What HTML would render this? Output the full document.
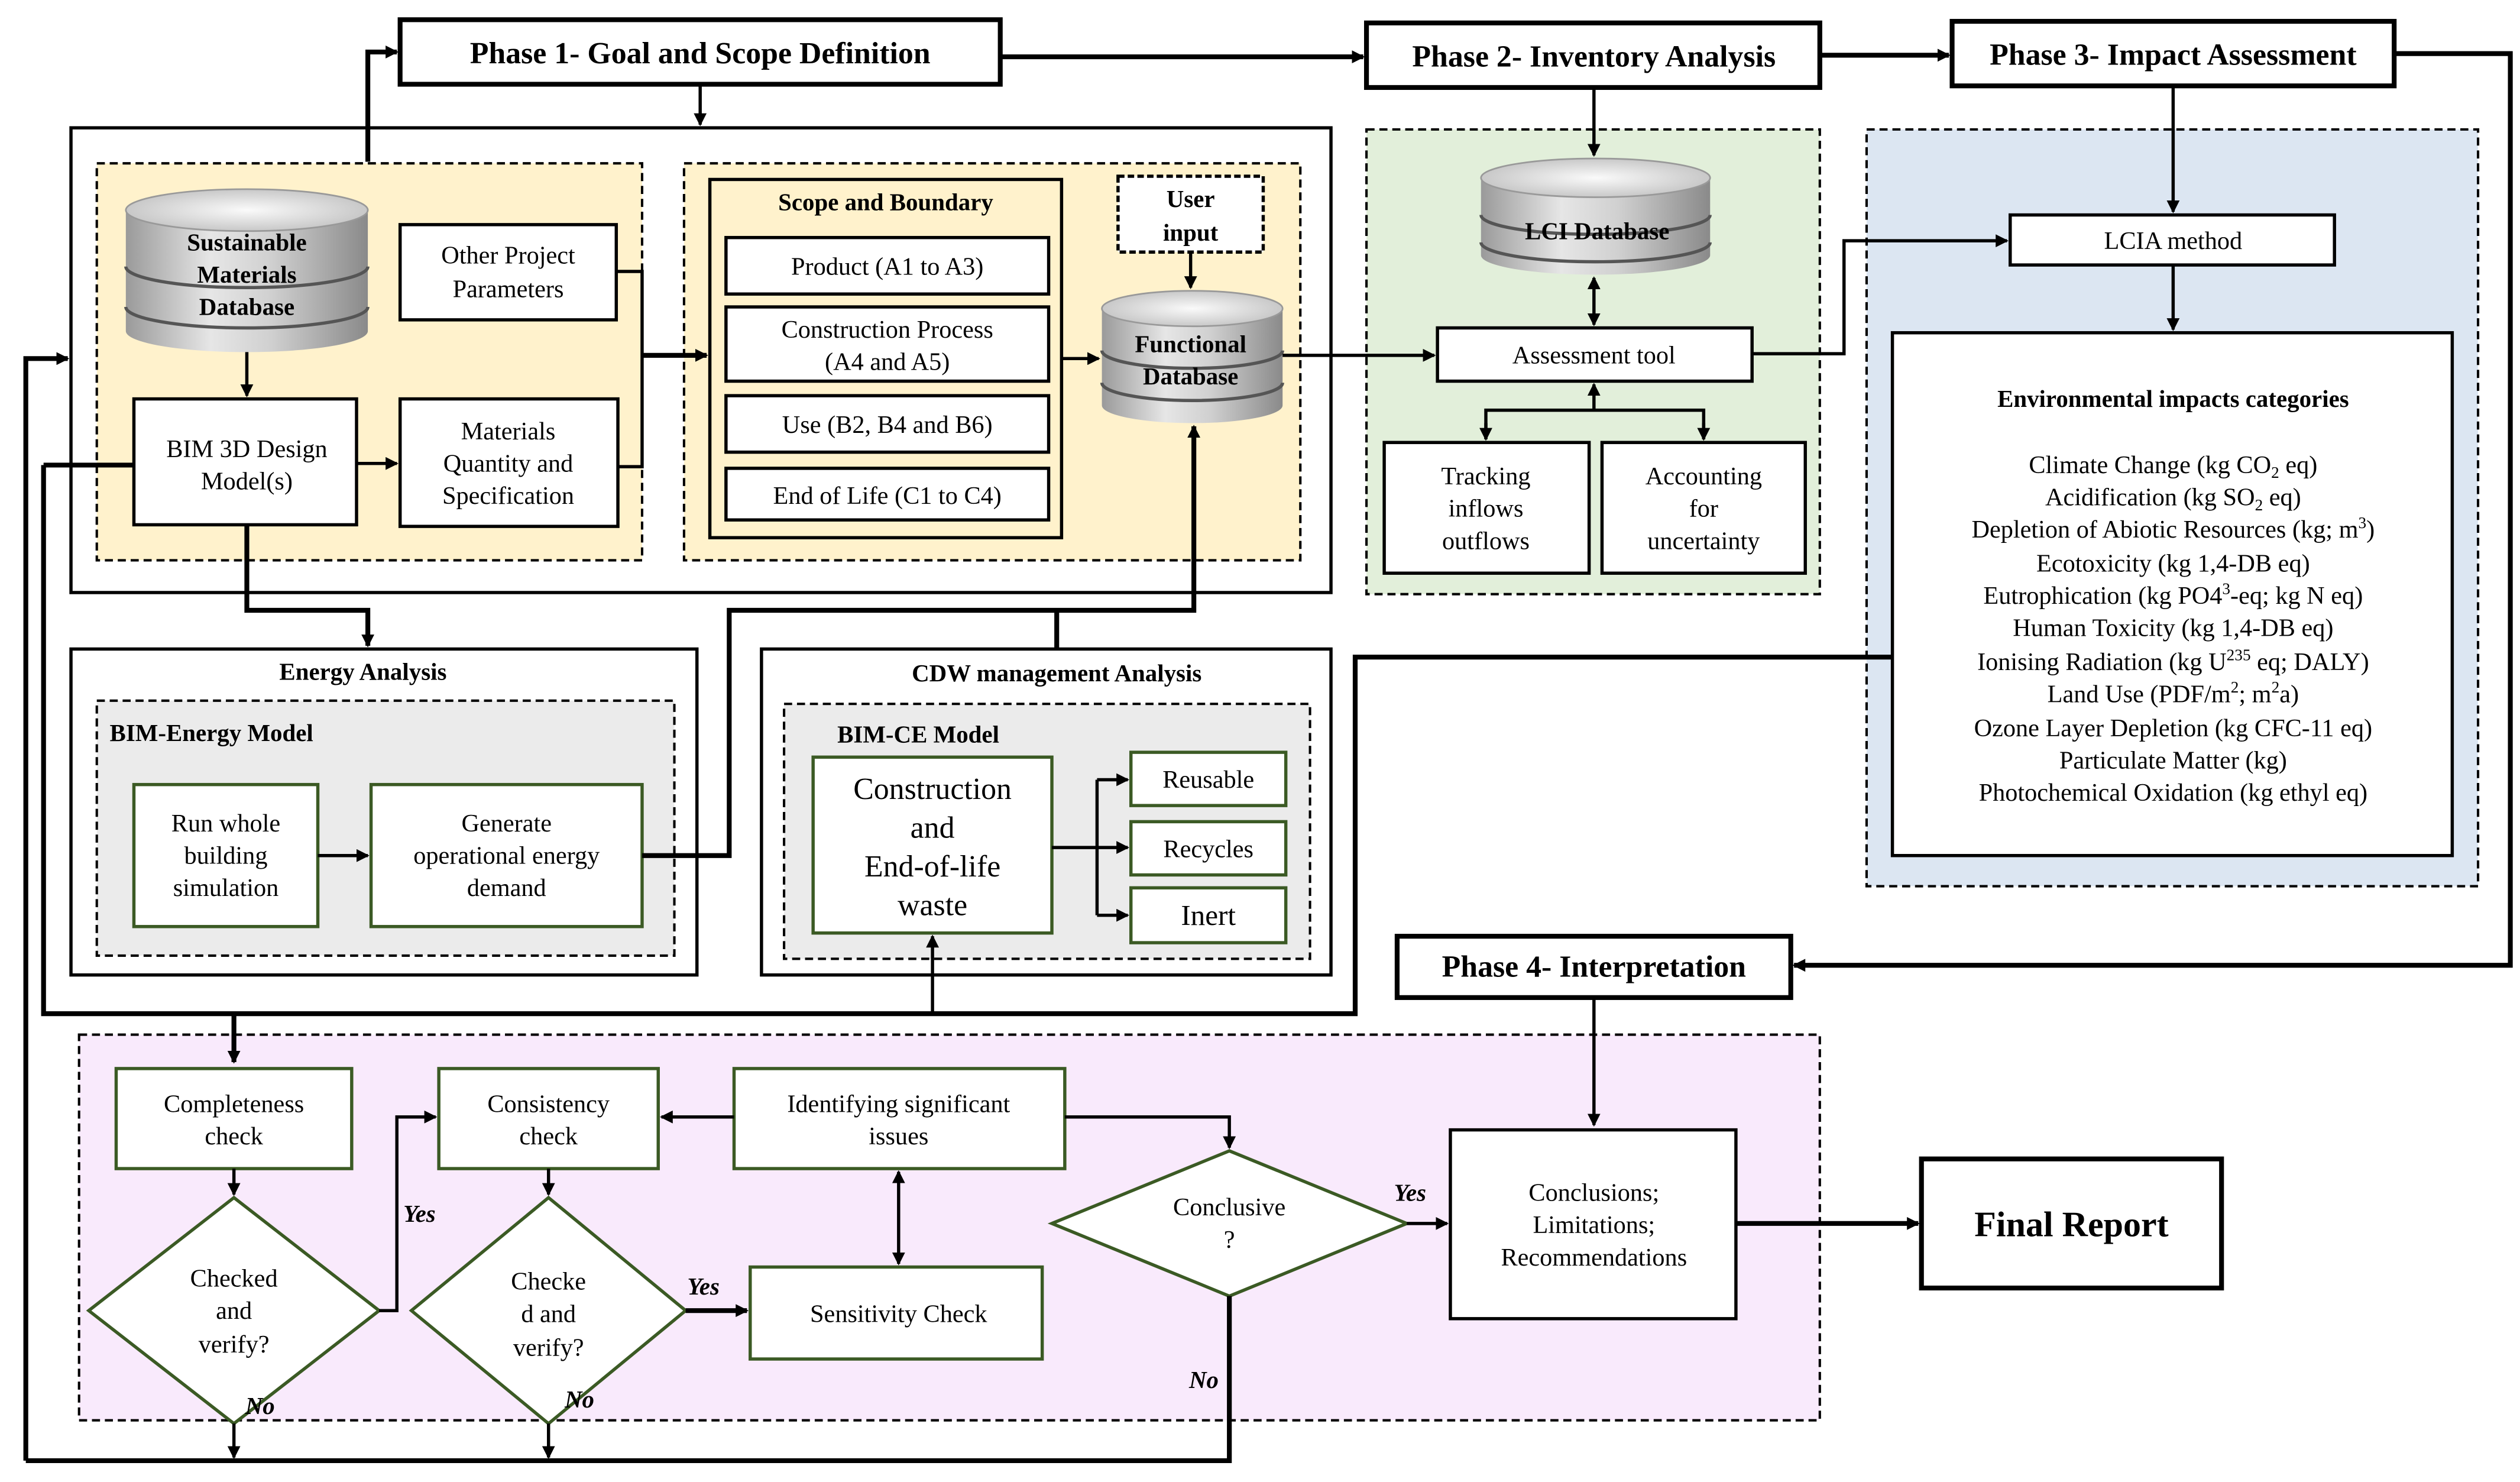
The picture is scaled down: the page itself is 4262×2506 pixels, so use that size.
<!DOCTYPE html>
<html><head><meta charset="utf-8"><style>html,body{margin:0;padding:0;background:#fff}svg{display:block}</style></head><body>
<svg width="4262" height="2506" viewBox="0 0 1562 918" xmlns="http://www.w3.org/2000/svg" font-family="'Liberation Serif',serif">
<defs>
<marker id="a" markerWidth="8" markerHeight="8" refX="7" refY="4" orient="auto" markerUnits="userSpaceOnUse"><path d="M0,0 L8,4 L0,8 Z" fill="#000"/></marker>
<marker id="s" markerWidth="8" markerHeight="8" refX="1" refY="4" orient="auto" markerUnits="userSpaceOnUse"><path d="M8,0 L0,4 L8,8 Z" fill="#000"/></marker>
<linearGradient id="cg" x1="0" x2="1"><stop offset="0" stop-color="#9a9a9a"/><stop offset=".35" stop-color="#e6e6e6"/><stop offset=".6" stop-color="#d0d0d0"/><stop offset="1" stop-color="#8a8a8a"/></linearGradient>
<radialGradient id="ct"><stop offset="0" stop-color="#fafafa"/><stop offset="1" stop-color="#c8c8c8"/></radialGradient>
</defs>
<g fill="none" stroke="#000">
<!-- backgrounds -->
<rect x="44" y="79" width="781" height="288" stroke-width="2"/>
<rect x="60" y="101" width="338" height="246" fill="#fff2cc" stroke-dasharray="5,3" stroke-width="1.5"/>
<rect x="424" y="101" width="382" height="246" fill="#fff2cc" stroke-dasharray="5,3" stroke-width="1.5"/>
<rect x="847" y="80" width="281" height="288" fill="#e2efda" stroke-dasharray="5,3" stroke-width="1.5"/>
<rect x="1157" y="80" width="379" height="469" fill="#dce6f2" stroke-dasharray="5,3" stroke-width="1.5"/>
<rect x="44" y="402" width="388" height="202" stroke-width="2"/>
<rect x="60" y="434" width="358" height="158" fill="#ebebeb" stroke-dasharray="5,3" stroke-width="1.5"/>
<rect x="472" y="402" width="353" height="202" stroke-width="2"/>
<rect x="486" y="436" width="326" height="158" fill="#ebebeb" stroke-dasharray="5,3" stroke-width="1.5"/>
<rect x="49" y="641" width="1079" height="239" fill="#f9eafc" stroke-dasharray="5,3" stroke-width="1.5"/>
<!-- phase boxes -->
<rect x="248" y="12" width="372" height="40" fill="#fff" stroke-width="3"/>
<rect x="847" y="14" width="281" height="40" fill="#fff" stroke-width="3"/>
<rect x="1210" y="13" width="274" height="40" fill="#fff" stroke-width="3"/>
<rect x="866" y="580" width="244" height="38" fill="#fff" stroke-width="3"/>
<rect x="1191" y="718" width="186" height="80" fill="#fff" stroke-width="3"/>
<!-- boxes phase1 -->
<g fill="#fff" stroke-width="2">
<rect x="248" y="139" width="134" height="59"/>
<rect x="83" y="247" width="138" height="78"/>
<rect x="248" y="247" width="135" height="79"/>
<rect x="440" y="111" width="218" height="222" fill="#fff2cc"/>
<rect x="450" y="147" width="200" height="35"/>
<rect x="450" y="190" width="200" height="46"/>
<rect x="450" y="245" width="200" height="35"/>
<rect x="450" y="290" width="200" height="32"/>
<rect x="693" y="109" width="90" height="47" stroke-dasharray="4,2"/>
<rect x="891" y="203" width="195" height="33"/>
<rect x="858" y="274" width="127" height="81"/>
<rect x="993" y="274" width="126" height="81"/>
<rect x="1246" y="133" width="201" height="31"/>
<rect x="1173" y="206" width="347" height="324"/>
<rect x="899" y="700" width="177" height="117"/>
</g>
<g fill="#fff" stroke="#3b5a24" stroke-width="2">
<rect x="83" y="486" width="114" height="88"/>
<rect x="230" y="486" width="168" height="88"/>
<rect x="504" y="469" width="148" height="109"/>
<rect x="701" y="466" width="96" height="33"/>
<rect x="701" y="509" width="96" height="33"/>
<rect x="701" y="550" width="96" height="34"/>
<rect x="72" y="662" width="146" height="62"/>
<rect x="272" y="662" width="136" height="62"/>
<rect x="455" y="662" width="205" height="62"/>
<rect x="465" y="785" width="181" height="57"/>
<path d="M145,742 L235,812 L145,882 L55,812 Z"/>
<path d="M340,742 L425,812 L340,882 L255,812 Z"/>
<path d="M762,713 L872,758 L762,803 L652,758 Z"/>
</g>
<!-- cylinders -->
<g stroke="none">
<path d="M78,130 v75 a75,13 0 0 0 150,0 v-75 Z" fill="url(#cg)"/>
<ellipse cx="153" cy="130" rx="75" ry="13" fill="url(#ct)" stroke="#999" stroke-width="1"/>
<path d="M683,191 v60 a56,11 0 0 0 112,0 v-60 Z" fill="url(#cg)"/>
<ellipse cx="739" cy="191" rx="56" ry="11" fill="url(#ct)" stroke="#999" stroke-width="1"/>
<path d="M918,110 v48 a71,12 0 0 0 142,0 v-48 Z" fill="url(#cg)"/>
<ellipse cx="989" cy="110" rx="71" ry="12" fill="url(#ct)" stroke="#999" stroke-width="1"/>
</g>
<g stroke="#555" stroke-width="2">
<path d="M78,165 a75,13 0 0 0 150,0"/><path d="M78,190 a75,13 0 0 0 150,0"/>
<path d="M683,217 a56,11 0 0 0 112,0"/><path d="M683,237 a56,11 0 0 0 112,0"/>
<path d="M918,133 a71,12 0 0 0 142,0"/><path d="M918,150 a71,12 0 0 0 142,0"/>
</g>
<!-- connectors -->
<g stroke-width="3">
<path d="M620,35 H845" marker-end="url(#a)"/>
<path d="M1128,34 H1208" marker-end="url(#a)"/>
<path d="M1484,33 H1556 V598 H1112" marker-end="url(#a)"/>
<path d="M228,100 V32 H246" marker-end="url(#a)"/>
<path d="M16,905 V222 H42" marker-end="url(#a)"/>
<path d="M16,905 H762 V803"/>
<path d="M153,325 V378 H228 V400" marker-end="url(#a)"/>
<path d="M398,530 H452 V378 H740 V264" marker-end="url(#a)"/>
<path d="M655,378 V402"/>
<path d="M27,288 H83 M27,288 V628 H840 V407 H1173"/>
<path d="M145,628 V658" marker-end="url(#a)"/>
<path d="M398,220 H438" marker-end="url(#a)"/>
<path d="M1076,758 H1189" marker-end="url(#a)"/>
<path d="M425,812 H463" marker-end="url(#a)"/>
</g>
<g stroke-width="2">
<path d="M434,52 V77" marker-end="url(#a)"/>
<path d="M382,168 H398 V289 H383"/>
<path d="M153,218 V245" marker-end="url(#a)"/>
<path d="M221,287 H246" marker-end="url(#a)"/>
<path d="M738,156 V178" marker-end="url(#a)"/>
<path d="M658,222 H681" marker-end="url(#a)"/>
<path d="M795,220 H889" marker-end="url(#a)"/>
<path d="M988,54 V96" marker-end="url(#a)"/>
<path d="M988,172 V201" marker-end="url(#a)" marker-start="url(#s)"/>
<path d="M988,254 V238" marker-end="url(#a)"/>
<path d="M921,272 V254 H1056 V272"/>
<path d="M921,262 V272" marker-end="url(#a)"/><path d="M1056,262 V272" marker-end="url(#a)"/>
<path d="M1086,219 H1143 V149 H1244" marker-end="url(#a)"/>
<path d="M1347,53 V131" marker-end="url(#a)"/>
<path d="M1347,164 V204" marker-end="url(#a)"/>
<path d="M197,530 H228" marker-end="url(#a)"/>
<path d="M652,525 H680 M680,483 V567 M680,483 H699" marker-end="url(#a)"/>
<path d="M680,525 H699" marker-end="url(#a)"/><path d="M680,567 H699" marker-end="url(#a)"/>
<path d="M578,628 V580" marker-end="url(#a)"/>
<path d="M988,618 V697" marker-end="url(#a)"/>
<path d="M145,724 V740" marker-end="url(#a)"/>
<path d="M340,724 V740" marker-end="url(#a)"/>
<path d="M235,812 H246 V692 H270" marker-end="url(#a)"/>
<path d="M455,692 H410" marker-end="url(#a)"/>
<path d="M660,692 H762 V711" marker-end="url(#a)"/>
<path d="M557,726 V783" marker-end="url(#a)" marker-start="url(#s)"/>
<path d="M872,758 H897" marker-end="url(#a)"/>
<path d="M145,882 V903" marker-end="url(#a)"/>
<path d="M340,882 V903" marker-end="url(#a)"/>
</g>
</g>
<!-- text -->
<g font-size="19" font-weight="bold" text-anchor="middle">
<text x="434" y="39">Phase 1- Goal and Scope Definition</text>
<text x="988" y="41">Phase 2- Inventory Analysis</text>
<text x="1347" y="40">Phase 3- Impact Assessment</text>
<text x="988" y="605">Phase 4- Interpretation</text>
<text x="1284" y="766" font-size="22">Final Report</text>
</g>
<g font-size="15" font-weight="bold" text-anchor="middle">
<text x="153" y="155">Sustainable</text><text x="153" y="175">Materials</text><text x="153" y="195">Database</text>
<text x="549" y="130">Scope and Boundary</text>
<text x="738" y="128">User</text><text x="738" y="149">input</text>
<text x="738" y="218">Functional</text><text x="738" y="238">Database</text>
<text x="990" y="148">LCI Database</text>
<text x="1347" y="252">Environmental impacts categories</text>
<text x="225" y="421">Energy Analysis</text>
<text x="655" y="422">CDW management Analysis</text>
<text x="68" y="459" text-anchor="start">BIM-Energy Model</text>
<text x="519" y="460" text-anchor="start">BIM-CE Model</text>
</g>
<g font-size="15.5" text-anchor="middle">
<text x="315" y="163">Other Project</text><text x="315" y="184">Parameters</text>
<text x="153" y="283">BIM 3D Design</text><text x="153" y="303">Model(s)</text>
<text x="315" y="272">Materials</text><text x="315" y="292">Quantity and</text><text x="315" y="312">Specification</text>
<text x="550" y="170">Product (A1 to A3)</text>
<text x="550" y="209">Construction Process</text><text x="550" y="229">(A4 and A5)</text>
<text x="550" y="268">Use (B2, B4 and B6)</text>
<text x="550" y="312">End of Life (C1 to C4)</text>
<text x="988" y="225">Assessment tool</text>
<text x="921" y="300">Tracking</text><text x="921" y="320">inflows</text><text x="921" y="340">outflows</text>
<text x="1056" y="300">Accounting</text><text x="1056" y="320">for</text><text x="1056" y="340">uncertainty</text>
<text x="1347" y="154">LCIA method</text>
<text x="140" y="515">Run whole</text><text x="140" y="535">building</text><text x="140" y="555">simulation</text>
<text x="314" y="515">Generate</text><text x="314" y="535">operational energy</text><text x="314" y="555">demand</text>
<text x="749" y="488">Reusable</text><text x="749" y="531">Recycles</text>
<text x="749" y="573" font-size="18">Inert</text>
<g font-size="19"><text x="578" y="495">Construction</text><text x="578" y="519">and</text><text x="578" y="543">End-of-life</text><text x="578" y="567">waste</text></g>
<text x="145" y="689">Completeness</text><text x="145" y="709">check</text>
<text x="340" y="689">Consistency</text><text x="340" y="709">check</text>
<text x="557" y="689">Identifying significant</text><text x="557" y="709">issues</text>
<text x="557" y="819">Sensitivity Check</text>
<text x="145" y="797">Checked</text><text x="145" y="817">and</text><text x="145" y="838">verify?</text>
<text x="340" y="799">Checke</text><text x="340" y="819">d and</text><text x="340" y="840">verify?</text>
<text x="762" y="753">Conclusive</text><text x="762" y="773">?</text>
<text x="988" y="744">Conclusions;</text><text x="988" y="764">Limitations;</text><text x="988" y="784">Recommendations</text>
</g>
<g font-size="15.5" text-anchor="middle">
<text x="1347" y="293">Climate Change (kg CO<tspan font-size="10" dy="3">2</tspan><tspan dy="-3"> eq)</tspan></text>
<text x="1347" y="313">Acidification (kg SO<tspan font-size="10" dy="3">2</tspan><tspan dy="-3"> eq)</tspan></text>
<text x="1347" y="333">Depletion of Abiotic Resources (kg; m<tspan font-size="10" dy="-6">3</tspan><tspan dy="6">)</tspan></text>
<text x="1347" y="354">Ecotoxicity (kg 1,4-DB eq)</text>
<text x="1347" y="374">Eutrophication (kg PO4<tspan font-size="10" dy="-6">3</tspan><tspan dy="6">-eq; kg N eq)</tspan></text>
<text x="1347" y="394">Human Toxicity (kg 1,4-DB eq)</text>
<text x="1347" y="415">Ionising Radiation (kg U<tspan font-size="10" dy="-6">235</tspan><tspan dy="6"> eq; DALY)</tspan></text>
<text x="1347" y="435">Land Use (PDF/m<tspan font-size="10" dy="-6">2</tspan><tspan dy="6">; m</tspan><tspan font-size="10" dy="-6">2</tspan><tspan dy="6">a)</tspan></text>
<text x="1347" y="456">Ozone Layer Depletion (kg CFC-11 eq)</text>
<text x="1347" y="476">Particulate Matter (kg)</text>
<text x="1347" y="496">Photochemical Oxidation (kg ethyl eq)</text>
</g>
<g font-size="15" font-style="italic" font-weight="bold">
<text x="250" y="757">Yes</text><text x="426" y="802">Yes</text><text x="864" y="744">Yes</text>
<text x="152" y="876">No</text><text x="350" y="872">No</text><text x="737" y="860">No</text>
</g>
</svg>
</body></html>
